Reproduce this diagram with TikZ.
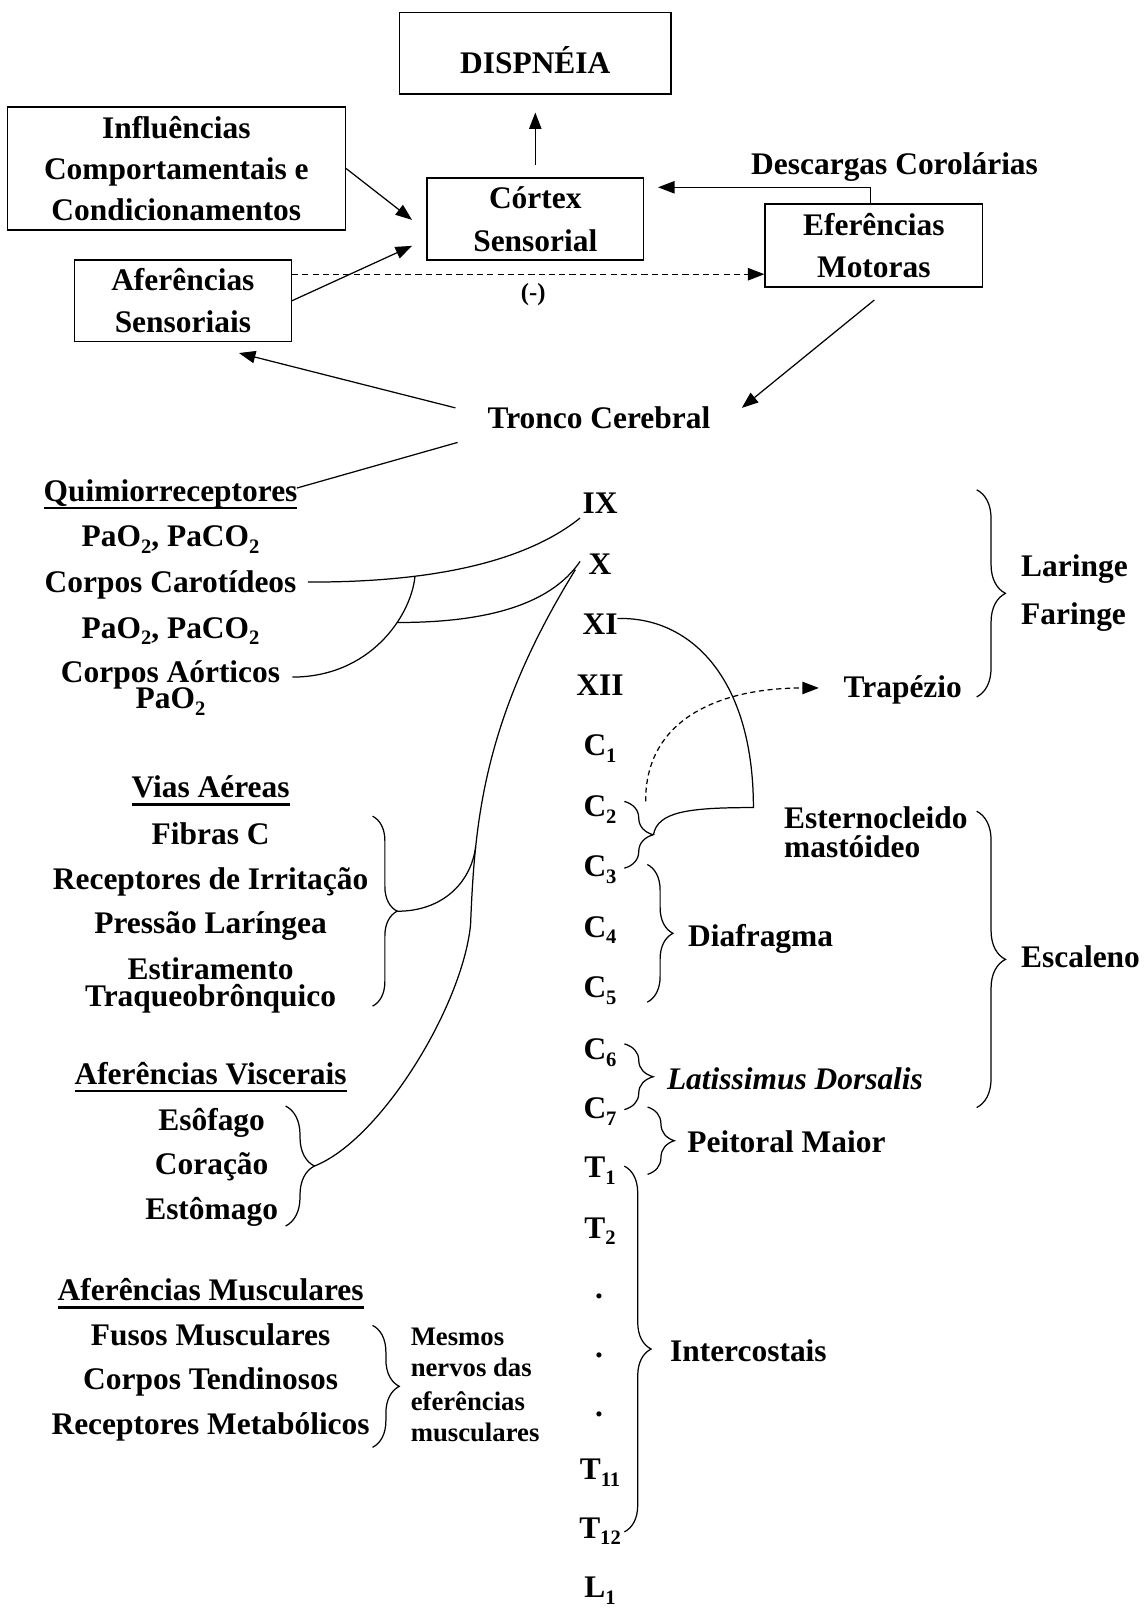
\documentclass[tikz,border=0pt]{standalone}
\usepackage{fontspec}
\setmainfont{Liberation Serif}
\usetikzlibrary{arrows.meta,decorations.pathreplacing,calc}
\newcommand\fbig{\fontsize{30.6}{36}\selectfont}
\newcommand\fsmall{\fontsize{26}{30}\selectfont}
\newcommand\nsub[1]{\raisebox{-0.22em}{\fontsize{20}{20}\selectfont #1}}
\newsavebox\ulbox
\newcommand\myul[1]{\sbox\ulbox{#1}\rlap{\rule[-7.8pt]{\wd\ulbox}{2.8pt}}\usebox\ulbox}
\tikzset{
 tx/.style={font=\bfseries\fbig, inner sep=0pt, anchor=base},
 txl/.style={tx, anchor=base west},
 bx/.style={draw, line width=1.5pt, inner sep=0pt, align=center},
 ln/.style={line width=1.2pt},
 arr/.style={ln, -{Triangle[length=16pt,width=12pt]}},
 brc/.style={ln, decorate, decoration={brace, amplitude=#1}},
 dsh/.style={dash pattern=on 6pt off 4pt},
}
\begin{document}
\begin{tikzpicture}[x=1pt,y=-1pt]
\fill[white] (0,0) rectangle (1113,1568);
\useasboundingbox (0,0) rectangle (1113,1568);

% ---------- boxes ----------
\node[bx, minimum width=264pt, minimum height=79.5pt, font=\bfseries\fbig, text height=40pt, text depth=0pt] (disp) at (521,52) {DISPNÉIA};
\node[bx, minimum width=329pt, minimum height=120pt, font=\bfseries\fontsize{30.6}{40}\selectfont] (infl) at (171.6,164) {Influências\\Comportamentais e\\Condicionamentos};
\node[bx, minimum width=211pt, minimum height=80pt, font=\bfseries\fontsize{30.6}{42}\selectfont] (cort) at (521,213) {Córtex\\Sensorial};
\node[bx, minimum width=211.5pt, minimum height=81pt, font=\bfseries\fontsize{30.6}{41.5}\selectfont] (eff) at (850.5,239) {Eferências\\Motoras};
\node[bx, minimum width=211pt, minimum height=79.5pt, font=\bfseries\fontsize{30.6}{40.5}\selectfont] (aff) at (178,292.7) {Aferências\\Sensoriais};

\node[tx] (desc) at (870.7,170) {Descargas Corolárias};
\node[tx, font=\bfseries\fontsize{24}{24}\selectfont] (neg) at (519,292) {(-)};
\node[tx] (tronco) at (583,417) {Tronco Cerebral};

% ---------- top connectors ----------
\coordinate (cIn1) at (401,214);
\coordinate (cIn2) at (401,239.3);
\coordinate (cIn3) at (640.5,182.3);
\coordinate (tIn) at (722,397);
\coordinate (tOut1) at (443.3,397);
\coordinate (aIn) at (232.6,343.6);
\coordinate (tOut2) at (445.4,430.6);
\coordinate (qIn) at (289,475);
\coordinate (eOut) at (851,292);

\draw[arr, shorten <=12pt, shorten >=17pt] (cort.north) -- (disp.south);
\draw[arr] (infl.east) -- (cIn1);
\draw[arr] (aff.east) -- (cIn2);
\draw[arr, dsh] (aff.east) ++(0,-25.8) coordinate (dA) -- (dA -| eff.west);
\draw[arr] ($(eff.north)+(-3,0)$) |- (cIn3);
\draw[arr] (eOut) -- (tIn);
\draw[arr] (tOut1) -- (aIn);
\draw[ln] (tOut2) -- (qIn);

% ---------- left column ----------
\node[tx] (q0) at (166,488) {\myul{Quimiorreceptores}};
\node[tx] (q1) at (166,532) {PaO\nsub{2}, PaCO\nsub{2}};
\node[tx] (q2) at (166,577) {Corpos Carotídeos};
\node[tx] (q3) at (166,621) {PaO\nsub{2}, PaCO\nsub{2}};
\node[tx] (q4) at (166,664) {Corpos Aórticos};
\node[tx] (q5) at (166,690) {PaO\nsub{2}};

\node[tx] (v0) at (205,776.6) {\myul{Vias Aéreas}};
\node[tx] (v1) at (205,822) {Fibras C};
\node[tx] (v2) at (205,866) {Receptores de Irritação};
\node[tx] (v3) at (205,909) {Pressão Laríngea};
\node[tx] (v4) at (205,953) {Estiramento};
\node[tx] (v5) at (205,980) {Traqueobrônquico};

\node[tx] (w0) at (205,1055.5) {\myul{Aferências Viscerais}};
\node[tx] (w1) at (206,1100) {Esôfago};
\node[tx] (w2) at (206,1143) {Coração};
\node[tx] (w3) at (206,1187) {Estômago};

\node[tx] (m0) at (205,1266) {\myul{Aferências Musculares}};
\node[tx] (m1) at (205,1310) {Fusos Musculares};
\node[tx] (m2) at (205,1352) {Corpos Tendinosos};
\node[tx] (m3) at (205,1396) {Receptores Metabólicos};

\node[txl, font=\bfseries\fsmall] (mm1) at (399.6,1309.6) {Mesmos};
\node[txl, font=\bfseries\fsmall] (mm2) at (399.6,1340) {nervos das};
\node[txl, font=\bfseries\fsmall] (mm3) at (399.6,1373) {eferências};
\node[txl, font=\bfseries\fsmall] (mm4) at (399.6,1403) {musculares};

% ---------- nerve column ----------
\node[tx] (n9) at (584,500) {IX};
\node[tx] (n10) at (584,558.9) {X};
\node[tx] (n11) at (584,617.8) {XI};
\node[tx] (n12) at (584,676.7) {XII};
\node[tx] (c1) at (584,735.6) {C\nsub{1}};
\node[tx] (c2) at (584,795) {C\nsub{2}};
\node[tx] (c3) at (584,853) {C\nsub{3}};
\node[tx] (c4) at (584,912) {C\nsub{4}};
\node[tx] (c5) at (584,971) {C\nsub{5}};
\node[tx] (c6) at (584,1031) {C\nsub{6}};
\node[tx] (c7) at (584,1089) {C\nsub{7}};
\node[tx] (t1) at (584,1146) {T\nsub{1}};
\node[tx] (t2) at (584,1205) {T\nsub{2}};
\node[tx] (d1) at (583,1264) {.};
\node[tx] (d2) at (583,1321) {.};
\node[tx] (d3) at (583,1379) {.};
\node[tx] (t11) at (584,1440) {T\nsub{11}};
\node[tx] (t12) at (584,1497) {T\nsub{12}};
\node[tx] (l1) at (584,1555) {L\nsub{1}};

% ---------- right texts ----------
\node[txl] (lar) at (993.7,561) {Laringe};
\node[txl] (far) at (993.7,608) {Faringe};
\node[txl] (trap) at (821,679) {Trapézio};
\node[txl] (est1) at (763,806) {Esternocleido};
\node[txl] (est2) at (763,835) {mastóideo};
\node[txl] (dia) at (669.6,921) {Diafragma};
\node[txl] (esc) at (993.7,942) {Escaleno};
\node[txl, font=\bfseries\itshape\fbig] (lat) at (649,1060) {Latissimus Dorsalis};
\node[txl] (pei) at (668.8,1122) {Peitoral Maior};
\node[txl] (inter) at (652,1325) {Intercostais};

% ---------- braces ----------
\draw[brc=28] (950.6,476.7) -- (950.6,678.3);
\draw[brc=28] (950.6,789.6) -- (950.6,1078);
\draw[brc=28] (607.7,780) -- (607.7,845);
\coordinate (c23tip) at (636,812.5);
\draw[brc=25] (630,841.4) -- (630,975.4);
\draw[brc=28] (607.7,1016) -- (607.7,1080);
\draw[brc=26] (630.3,1077.5) -- (630.3,1143);
\draw[brc=26] (607.7,1135) -- (607.7,1491);
\draw[brc=24] (362.6,794.4) -- (362.6,979.3);
\coordinate (viasTip) at (386.6,886.9);
\draw[brc=28] (278,1076.5) -- (278,1193.3);
\coordinate (viscTip) at (306,1134.9);
\draw[brc=26] (362.6,1290) -- (362.6,1408.7);

% ---------- nerve connectors ----------
\coordinate (q2R) at (299.7,566.5);
\coordinate (q4R) at (284.5,659);
\coordinate (n9L) at (564.6,504.2);
\coordinate (n10La) at (564.6,546.4);
\coordinate (n10Lb) at (560,554.5);
\coordinate (n11R) at (601,602);
\coordinate (dStart) at (628.4,780);
\coordinate (trapIn) at (797,669.6);

\draw[ln] (q2R) .. controls (440,567) and (520,540) .. (n9L) coordinate[pos=0.28] (junA);
\draw[ln] (junA) .. controls (400,600) and (360,659) .. (q4R) coordinate[pos=0.35] (junB);
\draw[ln] (junB) .. controls (470,606) and (535,590) .. (n10La);
\draw[ln] (n10Lb) .. controls (470,700) and (462,800) .. (458,900) coordinate[pos=0.75] (junD)
      .. controls (450,980) and (370,1110) .. (viscTip);
\draw[ln] (viasTip) .. controls (430,887) and (458,860) .. (junD);

\draw[ln] (n11R) .. controls (672,600) and (733.3,660) .. (733.3,786)
      .. controls (670,786) and (640,790) .. (c23tip);
\draw[arr, dash pattern=on 5pt off 3.5pt] (dStart) .. controls (628,700) and (700,669.6) .. (trapIn);
\end{tikzpicture}
\end{document}
